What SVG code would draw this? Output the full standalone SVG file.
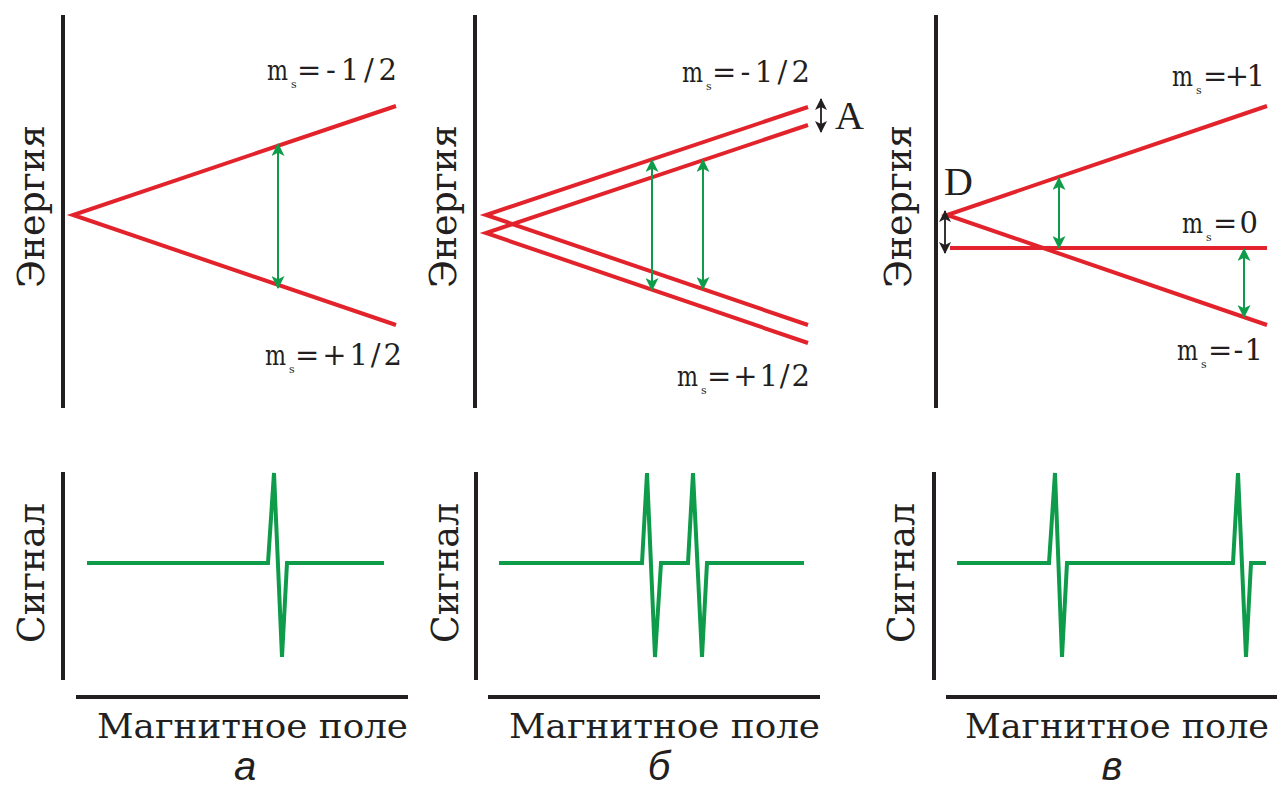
<svg xmlns="http://www.w3.org/2000/svg" width="1282" height="789" viewBox="0 0 1282 789">
<style>
.axis{stroke:#231f20;stroke-width:4;fill:none}
.lvl{stroke:#e3232b;stroke-width:4;fill:none;stroke-linecap:butt}
.sig{stroke:#0e9c4a;stroke-width:4;fill:none;stroke-linejoin:miter;stroke-miterlimit:3}
.tr{stroke:#0e9c4a;stroke-width:2;fill:none}
.bk{stroke:#231f20;stroke-width:1.8;fill:none}
.ax{font-family:"DejaVu Serif","Liberation Serif",serif;font-size:37px;fill:#231f20}
.fld{font-family:"DejaVu Serif","Liberation Serif",serif;font-size:33px;fill:#231f20}
.lbl{font-family:"DejaVu Serif","Liberation Serif",serif;font-size:27px;fill:#231f20}
.rest{font-family:"DejaVu Serif","Liberation Serif",serif;font-size:29px;fill:#231f20}
.sub{font-family:"DejaVu Serif","Liberation Serif",serif;font-size:11px;fill:#231f20}
.big{font-family:"Liberation Serif","DejaVu Serif",serif;font-size:40px;fill:#231f20}
.cap{font-family:"Liberation Sans",Arial,sans-serif;font-style:italic;font-size:40px;fill:#231f20;text-anchor:middle}
</style>
<defs>
<marker id="ga" viewBox="0 0 12 12" refX="11" refY="6" markerWidth="13" markerHeight="13" markerUnits="userSpaceOnUse" orient="auto-start-reverse">
<path d="M0,0 L12,6 L0,12 L3,6 Z" fill="#0e9c4a"/>
</marker>
<marker id="ka" viewBox="0 0 12 12" refX="11" refY="6" markerWidth="12" markerHeight="12" markerUnits="userSpaceOnUse" orient="auto-start-reverse">
<path d="M0,0 L12,6 L0,12 L3,6 Z" fill="#231f20"/>
</marker>
</defs>
<rect width="1282" height="789" fill="#ffffff"/>

<g id="panel-a-energy">
<line class="axis" x1="63" y1="15" x2="63" y2="408"/>
<text class="ax" transform="translate(44,288) rotate(-90)" textLength="163" lengthAdjust="spacingAndGlyphs">Энергия</text>
<polyline class="lvl" points="396,106 73,215 396,325"/>
<text class="lbl" x="267" y="80" textLength="21" lengthAdjust="spacingAndGlyphs">m</text><text class="sub" x="291" y="88">s</text><text class="rest" x="297" y="80" textLength="100">=-1/2</text>
<text class="lbl" x="265" y="365" textLength="21" lengthAdjust="spacingAndGlyphs">m</text><text class="sub" x="289" y="373">s</text><text class="rest" x="295" y="365" textLength="107">=+1/2</text>
</g>

<g id="panel-b-energy">
<line class="axis" x1="475" y1="15" x2="475" y2="408"/>
<text class="ax" transform="translate(456,288) rotate(-90)" textLength="163" lengthAdjust="spacingAndGlyphs">Энергия</text>
<polyline class="lvl" points="808,107 486,215 808,325"/>
<polyline class="lvl" points="808,125 486,233 808,343"/>
<text class="lbl" x="682" y="82" textLength="21" lengthAdjust="spacingAndGlyphs">m</text><text class="sub" x="706" y="90">s</text><text class="rest" x="712" y="82" textLength="98">=-1/2</text>
<text class="lbl" x="677" y="386" textLength="21" lengthAdjust="spacingAndGlyphs">m</text><text class="sub" x="701" y="394">s</text><text class="rest" x="707" y="386" textLength="103">=+1/2</text>
<text class="big" x="835" y="129">A</text>
</g>

<g id="panel-c-energy">
<line class="axis" x1="936" y1="15" x2="936" y2="408"/>
<text class="ax" transform="translate(911,288) rotate(-90)" textLength="163" lengthAdjust="spacingAndGlyphs">Энергия</text>
<polyline class="lvl" points="1267,106 947,215 1267,325"/>
<line class="lvl" x1="950" y1="248" x2="1267" y2="248"/>
<text class="lbl" x="1172" y="86" textLength="21" lengthAdjust="spacingAndGlyphs">m</text><text class="sub" x="1196" y="94">s</text><text class="rest" x="1203" y="86" textLength="62">=+1</text>
<text class="lbl" x="1182" y="233" textLength="21" lengthAdjust="spacingAndGlyphs">m</text><text class="sub" x="1206" y="241">s</text><text class="rest" x="1213" y="233" textLength="45">=0</text>
<text class="lbl" x="1177" y="360" textLength="21" lengthAdjust="spacingAndGlyphs">m</text><text class="sub" x="1201" y="368">s</text><text class="rest" x="1208" y="360" textLength="55">=-1</text>
<text class="big" x="944" y="195">D</text>
</g>

<g id="connectors">
<line class="tr" x1="278" y1="144" x2="278" y2="288" marker-start="url(#ga)" marker-end="url(#ga)"/>
<line class="tr" x1="652" y1="160" x2="652" y2="290" marker-start="url(#ga)" marker-end="url(#ga)"/>
<line class="tr" x1="703" y1="160" x2="703" y2="289" marker-start="url(#ga)" marker-end="url(#ga)"/>
<line class="tr" x1="1059" y1="178" x2="1059" y2="248" marker-start="url(#ga)" marker-end="url(#ga)"/>
<line class="tr" x1="1244" y1="249" x2="1244" y2="317" marker-start="url(#ga)" marker-end="url(#ga)"/>
<line class="bk" x1="821" y1="99" x2="821" y2="132" marker-start="url(#ka)" marker-end="url(#ka)"/>
<line class="bk" x1="945" y1="211" x2="945" y2="253" marker-start="url(#ka)" marker-end="url(#ka)"/>
</g>

<g id="panel-a-signal">
<line class="axis" x1="63" y1="472" x2="63" y2="680"/>
<line class="axis" x1="76" y1="697" x2="408" y2="697"/>
<text class="ax" transform="translate(44,643) rotate(-90)" textLength="140" lengthAdjust="spacingAndGlyphs">Сигнал</text>
<polyline class="sig" points="87,563 268,563 274,473 282,657 287,563 384,563"/>
<text class="fld" x="97" y="738" textLength="311" lengthAdjust="spacingAndGlyphs">Магнитное поле</text>
<text class="cap" x="245" y="780">а</text>
</g>

<g id="panel-b-signal">
<line class="axis" x1="476" y1="472" x2="476" y2="680"/>
<line class="axis" x1="488" y1="697" x2="820" y2="697"/>
<text class="ax" transform="translate(458,643) rotate(-90)" textLength="140" lengthAdjust="spacingAndGlyphs">Сигнал</text>
<polyline class="sig" points="499,563 642,563 647,473 655,657 661,563 688,563 693,473 702,657 707,563 804,563"/>
<text class="fld" x="509" y="738" textLength="311" lengthAdjust="spacingAndGlyphs">Магнитное поле</text>
<text class="cap" x="659" y="780">б</text>
</g>

<g id="panel-c-signal">
<line class="axis" x1="934" y1="472" x2="934" y2="680"/>
<line class="axis" x1="946" y1="697" x2="1277" y2="697"/>
<text class="ax" transform="translate(914,643) rotate(-90)" textLength="140" lengthAdjust="spacingAndGlyphs">Сигнал</text>
<polyline class="sig" points="957,563 1049,563 1055,473 1062,657 1067,563 1233,563 1238,473 1246,657 1251,563 1266,563"/>
<text class="fld" x="965" y="738" textLength="304" lengthAdjust="spacingAndGlyphs">Магнитное поле</text>
<text class="cap" x="1112" y="780">в</text>
</g>
</svg>
